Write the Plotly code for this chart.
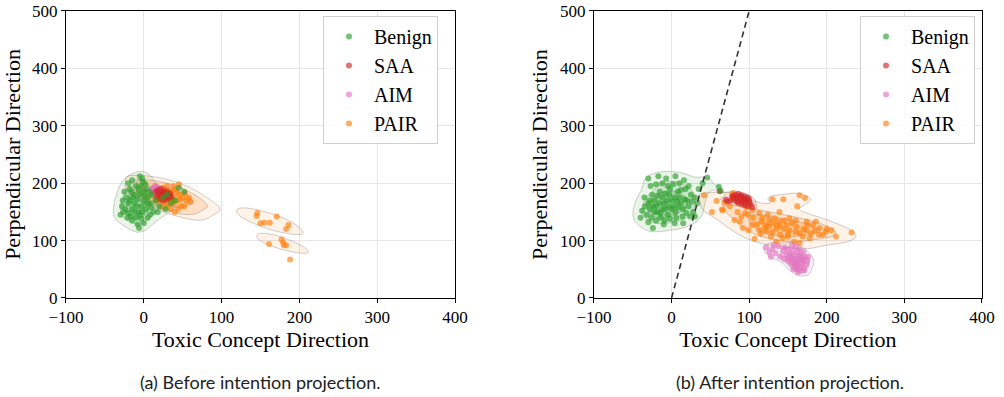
import numpy as np
import plotly.graph_objects as go

# ---------------- data ----------------
# (a) Before intention projection
benign_a = [(-20,200),(-15,205),(-5,212),(-2,208),(-10,195),(-18,190),(-25,185),(-22,175),(-28,160),(-26,150),
            (-30,145),(-20,148),(-15,155),(-12,165),(-8,172),(-5,180),(0,185),(3,190),(-3,160),(0,170),(5,175),
            (8,165),(10,158),(12,150),(-5,145),(-10,140),(-15,135),(-8,128),(0,130),(5,140),(-20,165),(-24,155),
            (-18,170),(-12,180),(-6,188),(2,198),(-1,202),(7,185),(15,170),(20,160),(25,175),(30,180),(35,165),
            (45,192),(52,185),(-2,150),(3,155),(-7,150),(-12,150),(-17,142),(-3,138),(8,145),(-9,160),(-14,175),
            (4,165),(1,178),(-4,195),(-16,185),(10,180),(-27,170),(-21,140),(-6,122),(18,150),(40,170),(28,155)]
saa_a = [(15,185),(18,188),(22,190),(26,187),(30,185),(34,182),(20,180),(24,178),(28,176),(32,174),(17,176),
         (21,172),(25,170),(29,172),(33,178),(23,184),(27,181),(19,182),(31,180),(35,176)]
aim_a = [(12,190),(14,193),(16,188),(18,192),(13,186),(15,184),(17,190),(19,186),(11,188),(16,194),(14,182),
         (20,189),(18,184),(13,191),(15,189)]
pair_a = [(15,195),(20,190),(25,192),(30,188),(35,185),(40,190),(45,180),(50,175),(55,170),(60,168),(22,180),
          (28,175),(32,170),(38,165),(42,170),(48,160),(18,172),(25,165),(30,160),(35,155),(40,150),(20,185),
          (27,183),(33,178),(37,176),(12,178),(16,168),(24,158),(44,155),(52,160),(58,175),(30,195),(38,195),
          (45,198),(26,170),(34,182),(29,178),(21,176),(31,165),(36,172),(23,188),(42,185),(47,172),(53,182),
          (146,148),(145,143),(150,130),(155,131),(162,131),(171,142),(186,127),(183,120),(161,94),(177,102),
          (179,97),(180,92),(183,92),(188,67)]

# (b) After intention projection
benign_b = [(-35,175),(-30,165),(-28,155),(-25,180),(-22,170),(-20,160),(-18,150),(-15,185),(-12,175),(-10,165),
            (-8,155),(-5,145),(-3,180),(0,170),(3,160),(5,150),(8,185),(10,175),(12,165),(15,155),(18,190),
            (20,170),(22,160),(25,180),(28,150),(-32,145),(-26,140),(-20,135),(-14,140),(-9,135),(-2,138),(6,140),
            (14,142),(-40,140),(-38,152),(-27,195),(-20,198),(-12,200),(-5,195),(2,198),(10,200),(16,205),(22,195),
            (-30,208),(-17,212),(-24,122),(-10,128),(4,130),(30,175),(33,165),(35,190),(40,200),(-16,165),(-6,170),
            (4,175),(-24,160),(-12,155),(0,155),(9,158),(17,172),(-2,190),(-8,182),(-18,178),(26,168),(12,188),
            (-34,160),(-28,170),(-14,148),(-4,160),(7,168),(19,148),(-30,132),(15,130),(-22,150),(24,142),(-7,208),
            (30,142),(5,212),(46,210),(61,194),(63,187)]
saa_b = [(78,178),(82,180),(86,181),(90,179),(94,177),(98,175),(80,172),(84,174),(88,173),(92,171),(96,169),
         (100,167),(102,163),(86,166),(90,164),(94,162),(98,160),(104,158),(76,170),(72,168),(70,171),(62,186),
         (88,177),(95,172),(84,168),(92,168),(80,176),(100,172)]
aim_b = [(122,88),(126,80),(130,85),(134,78),(138,90),(140,72),(144,82),(128,72),(132,92),(146,88),(150,85),
         (152,78),(155,72),(158,68),(160,62),(162,58),(165,55),(168,60),(170,65),(172,70),(166,75),(162,80),
         (156,82),(150,65),(154,60),(158,55),(162,50),(166,48),(170,52),(174,58),(160,72),(164,68),(168,72),
         (152,70),(156,64),(159,60),(163,64),(167,66),(161,54),(157,50),(171,48),(175,65),(148,75),(145,68),
         (165,85),(160,90),(155,92),(170,80),(176,72),(163,45)]
pair_b = [(42,179),(52,150),(58,169),(66,153),(79,183),(65,154),(81,136),(90,142),(98,145),(104,153),(113,148),
          (117,139),(124,145),(126,136),(130,172),(144,172),(165,179),(172,174),(162,160),(107,103),(99,118),
          (113,118),(122,116),(135,121),(139,133),(148,127),(152,118),(161,124),(165,113),(169,107),(174,118),
          (178,104),(182,127),(191,122),(199,116),(206,118),(212,107),(143,104),(150,107),(128,107),(116,133),
          (122,127),(133,139),(152,139),(174,133),(186,133),(195,110),(104,127),(92,122),(88,133),(165,96),
          (158,98),(135,98),(139,150),(79,174),(96,159),(125,125),(130,130),(140,125),(145,120),(155,130),
          (160,115),(170,120),(180,112),(185,118),(150,112),(140,110),(130,115),(120,122),(110,128),(175,128),
          (190,110),(200,120),(105,140),(95,148),(85,150),(75,160),(68,165),(160,135),(145,135),(135,128),
          (115,112),(232,114)]

# projection boundary (dashed line) in panel (b)
boundary_x = [0, 100]
boundary_y = [0, 500]

groups = ["Benign", "SAA", "AIM", "PAIR"]
colors = {"Benign": (44, 160, 44), "SAA": (214, 39, 40), "AIM": (227, 119, 194), "PAIR": (255, 127, 14)}
panel_a = {"Benign": benign_a, "SAA": saa_a, "AIM": aim_a, "PAIR": pair_a}
panel_b = {"Benign": benign_b, "SAA": saa_b, "AIM": aim_b, "PAIR": pair_b}
# kde bandwidth adjustment and outer iso-proportion level per panel/group
kde_opts_a = {"Benign": (1.0, 0.1), "SAA": (1.0, 0.1), "AIM": (1.0, 0.1), "PAIR": (0.8, 0.15)}
kde_opts_b = {"Benign": (1.0, 0.1), "SAA": (1.0, 0.1), "AIM": (1.0, 0.1), "PAIR": (1.0, 0.1)}

# ---------------- helpers ----------------
def kde_prop(pts, bw=1.0, step=2.0):
    d = np.array(pts, dtype=float).T
    n = d.shape[1]
    cov = np.cov(d) * n ** (-1.0 / 3.0) * bw * bw
    inv = np.linalg.inv(cov)
    sx, sy = np.sqrt(cov[0, 0]), np.sqrt(cov[1, 1])
    gx = np.arange(d[0].min() - 4 * sx, d[0].max() + 4 * sx, step)
    gy = np.arange(d[1].min() - 4 * sy, d[1].max() + 4 * sy, step)
    X, Y = np.meshgrid(gx, gy)
    dx = X[..., None] - d[0]
    dy = Y[..., None] - d[1]
    q = inv[0, 0] * dx * dx + 2 * inv[0, 1] * dx * dy + inv[1, 1] * dy * dy
    z = np.exp(-0.5 * q).sum(-1)
    flat = z.ravel()
    order = np.argsort(flat)[::-1]
    cum = np.cumsum(flat[order])
    cum /= cum[-1]
    p = np.empty_like(flat)
    p[order] = 1 - cum
    return gx, gy, np.round(p.reshape(z.shape), 3)

def rgba(c, a):
    return "rgba(%d,%d,%d,%.2f)" % (c[0], c[1], c[2], a)

SERIF = "Liberation Serif"
fig = go.Figure()

for panel, opts, (xa, ya, leg) in [(panel_a, kde_opts_a, ("x", "y", "legend")),
                                   (panel_b, kde_opts_b, ("x2", "y2", "legend2"))]:
    for g in groups:
        c = colors[g]
        bw, start = opts[g]
        gx, gy, p = kde_prop(panel[g], bw)
        size = (0.8 - start) / 2.5
        cs = [[0, "rgba(0,0,0,0)"], [0.16, "rgba(0,0,0,0)"],
              [0.16, rgba(c, 0.10)], [0.5, rgba(c, 0.10)],
              [0.5, rgba(c, 0.17)], [0.83, rgba(c, 0.17)],
              [0.83, rgba(c, 0.24)], [1, rgba(c, 0.24)]]
        fig.add_trace(go.Contour(x=gx, y=gy, z=p, xaxis=xa, yaxis=ya,
                                 autocontour=False,
                                 contours=dict(start=start, end=start + 2 * size, size=size,
                                               coloring="fill", showlines=True),
                                 line=dict(color="rgba(110,90,90,0.30)", width=1, smoothing=1),
                                 colorscale=cs, showscale=False, hoverinfo="skip", showlegend=False))
    for rank, g in zip([4, 3, 2, 1], ["PAIR", "AIM", "SAA", "Benign"]):
        pts = panel[g]
        fig.add_trace(go.Scatter(x=[q[0] for q in pts], y=[q[1] for q in pts], xaxis=xa, yaxis=ya,
                                 mode="markers", name=g, legend=leg, legendrank=rank,
                                 marker=dict(size=6, color=rgba(colors[g], 0.65), line=dict(width=0)),
                                 hoverinfo="skip"))

fig.add_trace(go.Scatter(x=boundary_x, y=boundary_y, xaxis="x2", yaxis="y2", mode="lines",
                         line=dict(color="#333333", width=1.6, dash="6px,4px"),
                         showlegend=False, hoverinfo="skip"))

tick_font = dict(family=SERIF, size=17, color="black")
title_font = dict(family=SERIF, size=22, color="black")
ax_common = dict(range=[-100, 400], tickvals=[-100, 0, 100, 200, 300, 400],
                 showline=True, mirror=True, linecolor="black", linewidth=1.2,
                 ticks="outside", ticklen=4, tickcolor="black", automargin=False,
                 ticklabeloverflow="allow",
                 showgrid=True, gridcolor="#e6e6e6", gridwidth=1, zeroline=False,
                 tickfont=tick_font,
                 title=dict(text="Toxic Concept Direction", font=title_font, standoff=2))
ay_common = dict(range=[0, 500], tickvals=[0, 100, 200, 300, 400, 500],
                 showline=True, mirror=True, linecolor="black", linewidth=1.2,
                 ticks="outside", ticklen=4, tickcolor="black", automargin=False,
                 ticklabeloverflow="allow",
                 showgrid=True, gridcolor="#e6e6e6", gridwidth=1, zeroline=False,
                 tickfont=tick_font,
                 title=dict(text="Perpendicular Direction", font=title_font, standoff=6))

leg_common = dict(bgcolor="rgba(255,255,255,0.85)", bordercolor="#d0d0d0", borderwidth=1,
                  font=dict(family=SERIF, size=20, color="black"), xanchor="left", yanchor="top",
                  traceorder="normal", itemsizing="trace", itemwidth=40)

fig.update_layout(
    width=1004, height=397, margin=dict(l=0, r=0, t=0, b=0, autoexpand=False),
    font=dict(family=SERIF, size=17, color="black"),
    paper_bgcolor="white", plot_bgcolor="white",
    xaxis=dict(ax_common, domain=[0.0657, 0.4532], anchor="y"),
    yaxis=dict(ay_common, domain=[0.2494, 0.9723], anchor="x"),
    xaxis2=dict(ax_common, domain=[0.5916, 0.978], anchor="y2"),
    yaxis2=dict(ay_common, domain=[0.2494, 0.9723], anchor="x2"),
    legend=dict(leg_common, x=0.3217, y=0.9597),
    legend2=dict(leg_common, x=0.8566, y=0.9597),
    annotations=[
        dict(text="(a) Before intention projection.", x=0.259, y=0.038, xref="paper", yref="paper",
             showarrow=False, xanchor="center", yanchor="middle",
             font=dict(family="Lato", size=18, color="#222222")),
        dict(text="(b) After intention projection.", x=0.787, y=0.038, xref="paper", yref="paper",
             showarrow=False, xanchor="center", yanchor="middle",
             font=dict(family="Lato", size=18, color="#222222")),
    ],
)

# remove the default 8px page margin so the figure fills the window exactly
fig.write_html("out.html", config={"displayModeBar": False},
               post_script="document.body.style.margin='0px';")
